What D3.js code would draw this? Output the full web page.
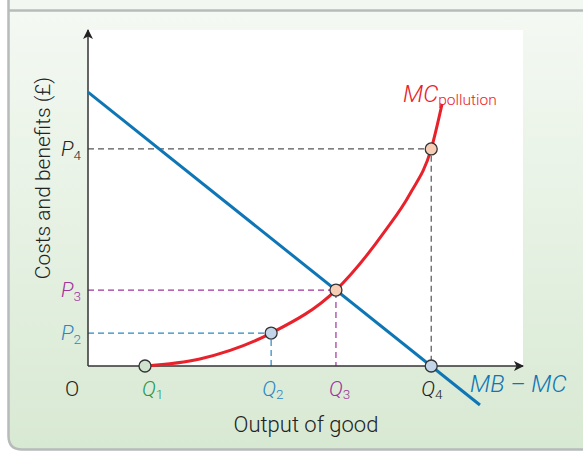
<!DOCTYPE html>
<html><head><meta charset="utf-8">
<script src="https://cdnjs.cloudflare.com/ajax/libs/d3/7.8.5/d3.min.js"></script>
<style>
html,body{margin:0;padding:0;background:#fff;}
svg{display:block;font-family:Roboto,"Liberation Sans",sans-serif;}
</style></head>
<body><svg id="c" width="583" height="452"></svg>
<script>
// ---- data (abstract units, 0..100 on both axes) ----
const qNames = ["Q", "Q", "Q", "Q"];
const qSubs = ["1", "2", "3", "4"];
const qValues = [13.1, 42.1, 57.0, 78.9];
const qColors = ["#1f9a50", "#2a87c6", "#a0339c", "#222222"];
const pSubs = ["2", "3", "4"];
const pValues = [9.8, 22.6, 64.6];
const pColors = ["#2a87c6", "#a0339c", "#222222"];
const pDashColors = ["#2a87c6", "#a0339c", "#555555"];
const pAtQ = [1, 2, 3]; // index of Q where each P meets MC
const mbX = [0, 90.1];
const mbY = [81.5, -11.6];
const mcX = [13.1, 25.7, 42.1, 57.0, 68.3, 74.0, 78.9, 81.4];
const mcY = [0, 2.1, 9.8, 22.6, 40.2, 51.2, 64.6, 78.0];

const svg = d3.select("#c");
const W = 583, H = 452;
const x = d3.scaleLinear().domain([0, 100]).range([88, 523]);
const y = d3.scaleLinear().domain([0, 100]).range([366, 30]);

// ---- background panel ----
const defs = svg.append("defs");
const g = defs.append("linearGradient").attr("id", "bg").attr("x1", 0).attr("y1", 0).attr("x2", 0).attr("y2", 1);
g.append("stop").attr("offset", "0%").attr("stop-color", "#f4f9f3");
g.append("stop").attr("offset", "100%").attr("stop-color", "#d8e9d3");
const mk = defs.append("marker").attr("id", "arr").attr("viewBox", "0 0 10 10")
  .attr("refX", 9).attr("refY", 5).attr("markerWidth", 10).attr("markerHeight", 10)
  .attr("markerUnits", "userSpaceOnUse").attr("orient", "auto");
mk.append("path").attr("d", "M0,0 L10,5 L0,10 L2.5,5 Z").attr("fill", "#222");

svg.append("rect").attr("x", 8).attr("y", 0).attr("width", W).attr("height", 11).attr("fill", "#f2f8f1");
svg.append("path")
  .attr("d", `M8.5,10.5 V436 Q8.5,449.5 22,449.5 H${W + 5} V10.5 Z`)
  .attr("fill", "url(#bg)").attr("stroke", "none");
svg.append("path").attr("d", `M8.5,0 V436 Q8.5,449.5 22,449.5 H${W + 5}`)
  .attr("fill", "none").attr("stroke", "#b7bbbb").attr("stroke-width", 2.5);
svg.append("line").attr("x1", 8).attr("x2", W).attr("y1", 10.5).attr("y2", 10.5)
  .attr("stroke", "#b7bbbb").attr("stroke-width", 2.5);

// ---- plot area ----
svg.append("rect").attr("x", x(0)).attr("y", y(100)).attr("width", x(100) - x(0)).attr("height", y(0) - y(100)).attr("fill", "#fff");

// dashed guides
pValues.forEach((pv, i) => {
  const qv = qValues[pAtQ[i]];
  svg.append("path")
    .attr("d", `M${x(0)},${y(pv)} H${x(qv)} V${y(0)}`)
    .attr("fill", "none").attr("stroke", pDashColors[i]).attr("stroke-width", 1.2)
    .attr("stroke-dasharray", "6,4");
});

// axes
svg.append("line").attr("x1", x(0)).attr("y1", y(0)).attr("x2", x(0)).attr("y2", y(100))
  .attr("stroke", "#333").attr("stroke-width", 1.5).attr("marker-end", "url(#arr)");
svg.append("line").attr("x1", x(0)).attr("y1", y(0)).attr("x2", x(100)).attr("y2", y(0))
  .attr("stroke", "#333").attr("stroke-width", 1.5).attr("marker-end", "url(#arr)");

// MB - MC line
svg.append("path").datum(d3.zip(mbX, mbY))
  .attr("d", d3.line().x(d => x(d[0])).y(d => y(d[1])))
  .attr("fill", "none").attr("stroke", "#0f76b6").attr("stroke-width", 3);

// MC pollution curve
svg.append("path").datum(d3.zip(mcX, mcY))
  .attr("d", d3.line().curve(d3.curveMonotoneX).x(d => x(d[0])).y(d => y(d[1])))
  .attr("fill", "none").attr("stroke", "#e8212b").attr("stroke-width", 3);

// points
const ptFill = ["#cfe3cf", "#c3d5e9", "#f8cdb6", "#c3d5e9"];
qValues.forEach((qv, i) => {
  const idx = mcX.indexOf(qv);
  const yy = i === 3 ? 0 : mcY[idx];
  svg.append("circle").attr("cx", x(qv)).attr("cy", y(yy)).attr("r", 6)
    .attr("fill", ptFill[i]).attr("stroke", "#333").attr("stroke-width", 1.3);
});
svg.append("circle").attr("cx", x(qValues[3])).attr("cy", y(pValues[2])).attr("r", 6)
  .attr("fill", "#f8cdb6").attr("stroke", "#333").attr("stroke-width", 1.3);

// ---- labels ----
const fw = 300;
const qOff = [-3, -9, -7, -10];
qValues.forEach((qv, i) => {
  const t = svg.append("text").attr("x", x(qv) + qOff[i]).attr("y", 396)
    .attr("fill", qColors[i]).attr("font-size", 21).attr("font-weight", fw);
  t.append("tspan").attr("font-style", "italic").text(qNames[i]);
  t.append("tspan").attr("font-size", 13.5).attr("dy", 3).text(qSubs[i]);
});
svg.append("text").attr("x", 72).attr("y", 396).attr("text-anchor", "middle")
  .attr("font-size", 21).attr("font-weight", fw).attr("fill", "#222").text("O");

pValues.forEach((pv, i) => {
  const t = svg.append("text").attr("x", 61).attr("y", y(pv) + 7)
    .attr("fill", pColors[i]).attr("font-size", 21).attr("font-weight", fw);
  t.append("tspan").attr("font-style", "italic").text("P");
  t.append("tspan").attr("font-size", 13.5).attr("dy", 4).text(pSubs[i]);
});

const mcT = svg.append("text").attr("x", 403).attr("y", 102).attr("fill", "#e8212b").attr("font-weight", fw);
mcT.append("tspan").attr("font-style", "italic").attr("font-size", 24).text("MC");
mcT.append("tspan").attr("font-size", 15.5).attr("dy", 3).text("pollution");

svg.append("text").attr("x", 470).attr("y", 392).attr("fill", "#0f76b6")
  .attr("font-size", 24).attr("font-style", "italic").attr("font-weight", fw).text("MB – MC");

svg.append("text").attr("x", 306).attr("y", 432).attr("text-anchor", "middle")
  .attr("font-size", 22).attr("font-weight", fw).attr("fill", "#222").text("Output of good");
svg.append("text").attr("transform", "translate(50,178) rotate(-90)").attr("text-anchor", "middle")
  .attr("font-size", 21).attr("font-weight", fw).attr("fill", "#222").text("Costs and benefits (£)");
</script></body></html>
